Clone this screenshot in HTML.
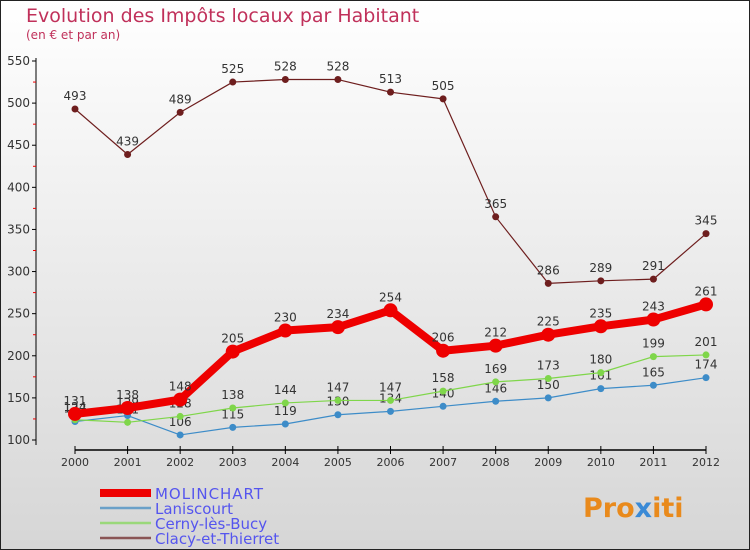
<!DOCTYPE html>
<html><head><meta charset="utf-8"><style>
body{margin:0}
#c{width:750px;height:550px;position:relative;overflow:hidden;font-family:"DejaVu Sans","Liberation Sans",sans-serif}
</style></head><body>
<div id="c">
<svg id="s" width="750" height="550" xmlns="http://www.w3.org/2000/svg">
<defs><linearGradient id="bg" x1="0" y1="0" x2="0" y2="1"><stop offset="0" stop-color="#ffffff"/><stop offset="1" stop-color="#d6d6d6"/></linearGradient></defs>
<rect x="0.5" y="0.5" width="749" height="549" fill="url(#bg)" stroke="#222"/>
<text x="26" y="22" font-size="19" fill="#c0305a">Evolution des Impôts locaux par Habitant</text>
<text x="26" y="39" font-size="12" fill="#c0305a">(en € et par an)</text>
<g id="axes"></g><g id="plot"></g><g id="legend"></g>
<text x="583" y="517" font-size="27" font-weight="bold" fill="#e98a1c">Pro<tspan fill="#3a8ad6">x</tspan>iti</text>
</svg></div>
<script>
const years=[2000,2001,2002,2003,2004,2005,2006,2007,2008,2009,2010,2011,2012];
const yTicks=[100,150,200,250,300,350,400,450,500,550];
const molinchart=[131,138,148,205,230,234,254,206,212,225,235,243,261];
const laniscourt=[122,129,106,115,119,130,134,140,146,150,161,165,174];
const cerny=[124,121,128,138,144,147,147,158,169,173,180,199,201];
const clacy=[493,439,489,525,528,528,513,505,365,286,289,291,345];
const NS="http://www.w3.org/2000/svg";
const X=i=>75+i*(706-75)/12, Y=v=>440-(v-100)*(379/450);
function mk(t,a,p){const e=document.createElementNS(NS,t);for(const k in a)e.setAttribute(k,a[k]);p.appendChild(e);return e;}
const ax=document.getElementById('axes');
let l=mk('line',{x1:36,y1:58,x2:36,y2:445,stroke:'#000'},ax);


l=mk('line',{x1:75,y1:450,x2:706,y2:450,stroke:'#000','stroke-width':1.5},ax);


yTicks.forEach(v=>{const y=Y(v);mk('line',{x1:32,y1:y,x2:36,y2:y,stroke:'#000'},ax);
 if(v<550)mk('line',{x1:33,y1:Y(v+25),x2:36,y2:Y(v+25),stroke:'#e00'},ax);
 const t=mk('text',{x:30,y:y+4,'font-size':12,fill:'#333','text-anchor':'end'},ax);t.textContent=v;
 
 });
years.forEach((yr,i)=>{const x=X(i);mk('line',{x1:x,y1:446,x2:x,y2:454,stroke:'#000'},ax);
 const t=mk('text',{x:x,y:466,'font-size':11,fill:'#333','text-anchor':'middle'},ax);t.textContent=yr;
 
 });
const plot=document.getElementById('plot');
function series(d,col,w,r,name,lab){
 const g=mk('g',{},plot);
 
 
 mk('polyline',{points:d.map((v,i)=>X(i)+','+Y(v)).join(' '),fill:'none',stroke:col,'stroke-width':w,'stroke-linejoin':'round'},g);
 d.forEach((v,i)=>{const c=mk('circle',{cx:X(i),cy:Y(v),r:r,fill:col},g);
  
  
  if(lab){const t=mk('text',{x:X(i),y:Y(v)-9,'font-size':12,fill:'#333','text-anchor':'middle'},g);t.textContent=v;
  
  }});
}
series(clacy,'#6e1e1e',1.2,3.5,'series-clacy',true);
series(laniscourt,'#3d8cc8',1.2,3.5,'series-laniscourt',true);
series(cerny,'#7fd64a',1.2,3.5,'series-cerny',true);
series(molinchart,'#ee0000',8,7,'series-molinchart',true);
const lg=document.getElementById('legend');
[['MOLINCHART','#ee0000',8],['Laniscourt','#6aa0c8',2.5],['Cerny-lès-Bucy','#9ad87a',2.5],['Clacy-et-Thierret','#8a5555',2.5]].forEach((e,i)=>{
 const y=493+i*15;
 const g=mk('g',{},lg);
 
 
 mk('line',{x1:100,y1:y,x2:151,y2:y,stroke:e[1],'stroke-width':e[2]},g);
 const t=mk('text',{x:155,y:y+6,'font-size':15,fill:'#5555ee','textLength':i==0?108:0},g);
 if(i)t.removeAttribute('textLength');
 t.textContent=e[0];
});
</script>
</body></html>
